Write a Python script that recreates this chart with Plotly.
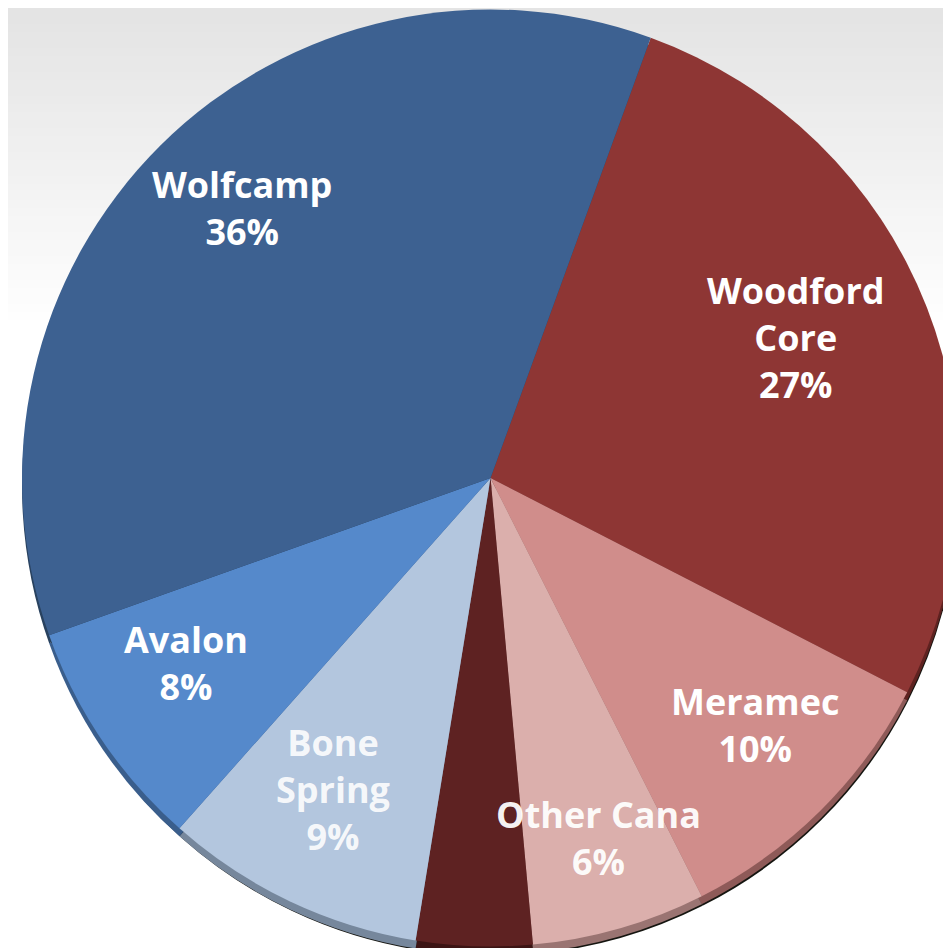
import math
import plotly.graph_objects as go

# ---- data ----
categories = ["Woodford Core", "Meramec", "Other Cana", "Other", "Bone Spring", "Avalon", "Wolfcamp"]
values = [27, 10, 6, 4, 9, 8, 36]
label_text = ["Woodford<br>Core", "Meramec", "Other Cana", "", "Bone<br>Spring", "Avalon", "Wolfcamp"]

# ---- style ----
colors = ["#8E3634", "#D08D8B", "#DBAFAC", "#5E2222", "#B3C6DE", "#5589CB", "#3D6191"]
rim_colors = ["#5E2220", "#8E5A58", "#9A7472", "#3C1414", "#76879C", "#3A5E8C", "#29425F"]
label_radius = [0.70, 0.80, 0.84, 0.8, 0.78, 0.78, 0.75]
label_alpha = [1, 1, 0.95, 1, 0.9, 1, 1]

W, H = 951, 948
cx, cy, R = 484, 470, 470
lcx, lcy, lR = 482, 450, 470   # apex of the slices for label placement
rotation = 20

def dom(cx_, cy_, r_):
    return dict(x=[max(0, (cx_ - r_) / W), min(1, (cx_ + r_) / W)],
                y=[max(0, 1 - (cy_ + r_) / H), min(1, 1 - (cy_ - r_) / H)])

fig = go.Figure()
# dark outline shadow
fig.add_trace(go.Pie(labels=categories, values=values, sort=False, direction="clockwise",
                     rotation=rotation, domain=dom(cx, cy + 11, R - 3),
                     marker=dict(colors=["#151510"] * len(values), line=dict(width=0)),
                     textinfo="none", hoverinfo="skip", showlegend=False))
# coloured rim
fig.add_trace(go.Pie(labels=categories, values=values, sort=False, direction="clockwise",
                     rotation=rotation, domain=dom(cx, cy + 8, R),
                     marker=dict(colors=rim_colors, line=dict(width=0)),
                     textinfo="none", hoverinfo="skip", showlegend=False))
# top face
fig.add_trace(go.Pie(labels=categories, values=values, sort=False, direction="clockwise",
                     rotation=rotation, domain=dom(cx, cy, R),
                     marker=dict(colors=colors, line=dict(width=0)),
                     textinfo="none", showlegend=False))

# labels placed at slice mid-angles computed from the data
total = sum(values)
start = rotation
annotations = []
for cat, v, txt, f, a in zip(categories, values, label_text, label_radius, label_alpha):
    span = 360 * v / total
    mid = math.radians(start + span / 2)
    start += span
    if not txt:
        continue
    px = lcx + f * lR * math.sin(mid)
    py = lcy - f * lR * math.cos(mid)
    annotations.append(dict(x=px / W, y=1 - py / H, xref="paper", yref="paper",
                            xanchor="center", yanchor="middle",
                            text=f"{txt}<br>{v}%", showarrow=False, align="center",
                            font=dict(family="Open Sans", size=36, weight="bold",
                                      color=f"rgba(255,255,255,{a})")))

# background gradient (top grey to white)
shapes = []
steps = 40
for i in range(steps):
    y0 = i * 8
    g = int(0xE4 + (0xFF - 0xE4) * i / (steps - 1))
    shapes.append(dict(type="rect", xref="paper", yref="paper", layer="below",
                       x0=0, x1=1, y0=1 - (y0 + 8) / H, y1=1 - y0 / H,
                       fillcolor=f"rgb({g},{g},{g})", line=dict(width=0)))

fig.update_layout(width=W, height=H, margin=dict(l=0, r=0, t=0, b=0),
                  paper_bgcolor="white", plot_bgcolor="white",
                  annotations=annotations, shapes=shapes)

fig.write_html("out.html")
